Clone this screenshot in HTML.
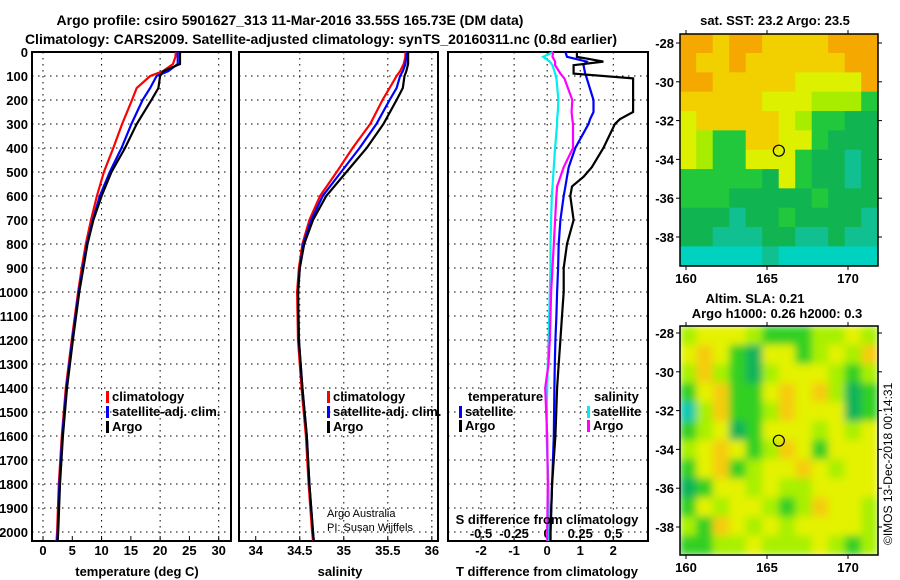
<!DOCTYPE html>
<html><head><meta charset="utf-8"><style>
body{margin:0;background:#fff}
svg{display:block;font-family:"Liberation Sans",Arial,sans-serif}
.t{font-weight:bold;font-size:13px}
.ti{font-weight:bold;font-size:14px}
</style></head><body>
<svg id="c" width="900" height="580" viewBox="0 0 900 580">
<text class="ti" x="290" y="25" text-anchor="middle">Argo profile: csiro 5901627_313 11-Mar-2016 33.55S 165.73E (DM data)</text>
<text class="ti" x="321" y="44" text-anchor="middle">Climatology: CARS2009. Satellite-adjusted climatology: synTS_20160311.nc (0.8d earlier)</text>
<g id="plots"></g>
<text x="327" y="517" font-size="11">Argo Australia</text>
<text x="327" y="531" font-size="11">PI: Susan Wijffels</text>
<text class="t" x="547" y="524" text-anchor="middle">S difference from climatology</text>
<text class="t" x="137" y="576" text-anchor="middle">temperature (deg C)</text>
<text class="t" x="340" y="576" text-anchor="middle">salinity</text>
<text class="t" x="547" y="576" text-anchor="middle">T difference from climatology</text>
<text class="t" x="775" y="25" text-anchor="middle">sat. SST: 23.2 Argo: 23.5</text>
<text class="t" x="755" y="303" text-anchor="middle">Altim. SLA: 0.21</text>
<text class="t" x="777" y="318" text-anchor="middle">Argo h1000: 0.26 h2000: 0.3</text>
<text x="892" y="545" font-size="12" transform="rotate(-90 892 545)">©IMOS 13-Dec-2018 00:14:31</text>
</svg>
<script>
const depths=[0,20,50,80,100,150,200,300,400,500,600,700,800,900,1000,1200,1400,1600,1800,2000,2050];
const tClim=[22.7,22.6,22.2,20.5,18.3,16,15.2,13.5,12,10.4,9.2,8.2,7.3,6.6,6,4.9,3.9,3.2,2.7,2.4,2.3];
const tSat=[23,23,23,21.4,19.4,18.3,17,15.1,13.4,11.4,9.7,8.5,7.5,6.8,6.1,5,4,3.3,2.8,2.5,2.4];
const tArgo=[23.4,23.4,23.4,20.5,20,19.7,18.5,16,14,11.7,10,8.6,7.6,6.9,6.2,5.1,4.1,3.4,2.9,2.6,2.5];
const sClim=[35.70,35.70,35.68,35.64,35.60,35.52,35.44,35.30,35.10,34.92,34.73,34.61,34.53,34.49,34.47,34.48,34.52,34.57,34.60,34.64,34.65];
const sSat=[35.72,35.71,35.70,35.67,35.64,35.60,35.52,35.37,35.18,34.97,34.76,34.63,34.54,34.50,34.48,34.49,34.53,34.58,34.61,34.65,34.66];
const sArgo=[35.73,35.73,35.73,35.71,35.69,35.67,35.60,35.45,35.26,35.03,34.80,34.65,34.55,34.50,34.48,34.49,34.53,34.58,34.61,34.65,34.66];
const dDepths=[0,20,40,55,90,110,200,250,280,300,400,480,520,560,600,700,800,900,1000,1100,1200,1300,1400,1600,1800,2000,2050];
const dtArgo=[0.9,0.9,1.7,0.8,0.8,2.6,2.6,2.6,2.2,2.05,1.7,1.35,1.1,0.75,0.7,0.8,0.6,0.5,0.5,0.45,0.4,0.35,0.3,0.25,0.15,0.1,0.1];
const dtSat=[0.55,0.6,1.2,1.1,1.15,1.2,1.4,1.4,1.3,1.25,0.85,0.65,0.6,0.55,0.5,0.4,0.35,0.33,0.3,0.28,0.25,0.23,0.22,0.2,0.15,0.1,0.1];
const dsArgo=[0.045,0.04,0.06,0.06,0.1,0.13,0.19,0.185,0.19,0.195,0.195,0.125,0.1,0.075,0.07,0.06,0.05,0.04,0.03,0.025,0.02,0.01,-0.015,0.0,0.005,0.0,0.0];
const dsSat=[0.045,-0.03,0.02,0.04,0.06,0.07,0.085,0.08,0.075,0.075,0.06,0.05,0.045,0.04,0.035,0.03,0.025,0.025,0.02,0.015,0.01,0.005,0.0,-0.005,0.01,0.015,0.015];
const depthTicks=[0,100,200,300,400,500,600,700,800,900,1000,1100,1200,1300,1400,1500,1600,1700,1800,1900,2000];
const tTicks=[0,5,10,15,20,25,30];
const sTicks=[34,34.5,35,35.5,36];
const dtTicks=[-2,-1,0,1,2];
const dsTicks=[-0.5,-0.25,0,0.25,0.5];
const dsTickLabels=["-0.5","-0.25","0","0.25","0.5"];
const mapSST=["OOYOOYYYYOOO","OYYOYYYYYYOO","OOYYYYYyyyyO","YYYYYyyyLLLG","yYYYYYyLGGgg","yLGGYYyyGggg","yLGGyyyGggTg","GGGGGgyGggTg","GGGgggggGggg","gggTggGggggT","ggTTTggTTgTT","CCCCCTCCCCCC"];
const mapSLA=["LyyyLGGGLLyL","yYyGgyyGLyLY","LYLGgLyyyLGL","GyYGGyYyYLgG","CLYGGLYyyygG","GLygGyyyLyLy","LyYyGLYyGyyy","GyYGLyyYyLyy","gGyyLyLLyyyy","GyLyyLGLYyyL","LGYyLyLyyyyL","GGLLyLLLyLGL"];
const mapLatTicks=[-28,-30,-32,-34,-36,-38];
const mapLonTicks=[160,165,170];
const NS='http://www.w3.org/2000/svg';
const root=document.getElementById('plots');
function el(tag,attrs,parent){const e=document.createElementNS(NS,tag);for(const k in attrs)e.setAttribute(k,attrs[k]);(parent||root).appendChild(e);return e;}
const Y0=52,Y1=541;
const yScale=d=>Y0+d*0.24;
function panel(name,x0,x1,lo,hi){
  const g=el('g',{});
  
  
  return {g,x:v=>x0+(v-lo)/(hi-lo)*(x1-x0),x0,x1};
}
function frame(p,gridVals,xf){
  depthTicks.forEach(d=>{const l=el('line',{x1:p.x0,x2:p.x1,y1:yScale(d),y2:yScale(d),stroke:'#000','stroke-dasharray':'1.5 4.5','stroke-width':1},p.g);
    
    });
  gridVals.forEach(v=>{const l=el('line',{x1:xf(v),x2:xf(v),y1:Y0,y2:Y1,stroke:'#000','stroke-dasharray':'1.5 4.5'},p.g);
    
    });
  const r=el('rect',{x:p.x0,y:Y0,width:p.x1-p.x0,height:Y1-Y0,fill:'none',stroke:'#000','stroke-width':2},p.g);
  
  
}
function line(p,xs,ds,xf,color,name){
  const pts=xs.map((v,i)=>xf(v).toFixed(1)+','+Math.min(yScale(ds[i]),Y1).toFixed(1)).join(' ');
  const l=el('polyline',{points:pts,fill:'none',stroke:color,'stroke-width':2.2},p.g);
  
  
}
function xticks(p,vals,labels,xf,y){
  vals.forEach((v,i)=>{el('line',{x1:xf(v),x2:xf(v),y1:Y1,y2:Y1-5,stroke:'#000'},p.g);
    const t=el('text',{x:xf(v),y:y,'text-anchor':'middle',class:'t'},p.g);t.textContent=labels?labels[i]:String(v);
    
    });
}
function legendItem(p,x,y,color,label){
  el('rect',{x:x,y:y-10,width:3,height:12,fill:color},p.g);
  const t=el('text',{x:x+6,y:y,class:'t'},p.g);t.textContent=label;
  
  
}
depthTicks.forEach(d=>{const t=el('text',{x:28,y:yScale(d)+5,'text-anchor':'end',class:'t'});t.textContent=String(d);
  
  });
// temperature
const pT=panel('temperature-panel',32,231,-1.88,32.1);
frame(pT,[0,10,20,30],pT.x);
xticks(pT,tTicks,null,pT.x,555);
line(pT,tClim,depths,pT.x,'#f00','temp-climatology-line');
line(pT,tSat,depths,pT.x,'#00f','temp-satellite-line');
line(pT,tArgo,depths,pT.x,'#000','temp-argo-line');
legendItem(pT,106,401,'#f00','climatology');
legendItem(pT,106,416,'#00f','satellite-adj. clim.');
legendItem(pT,106,431,'#000','Argo');
// salinity
const pS=panel('salinity-panel',239,438,33.81,36.07);
frame(pS,[34.5,35,35.5,36],pS.x);
xticks(pS,sTicks,null,pS.x,555);
line(pS,sClim,depths,pS.x,'#f00','sal-climatology-line');
line(pS,sSat,depths,pS.x,'#00f','sal-satellite-line');
line(pS,sArgo,depths,pS.x,'#000','sal-argo-line');
legendItem(pS,327,401,'#f00','climatology');
legendItem(pS,327,416,'#00f','satellite-adj. clim.');
legendItem(pS,327,431,'#000','Argo');
// diff
const pD=panel('difference-panel',448,648,-3,3.05);
const dsx=v=>pD.x(v*4);
frame(pD,dtTicks,pD.x);
xticks(pD,dtTicks,null,pD.x,555);
dsTicks.forEach((v,i)=>{const t=el('text',{x:dsx(v),y:538,'text-anchor':'middle',class:'t'},pD.g);t.textContent=dsTickLabels[i];
  
  });
line(pD,dsSat,dDepths,dsx,'#0ee','sdiff-satellite-line');
line(pD,dsArgo,dDepths,dsx,'#f0f','sdiff-argo-line');
line(pD,dtSat,dDepths,pD.x,'#00f','tdiff-satellite-line');
line(pD,dtArgo,dDepths,pD.x,'#000','tdiff-argo-line');
{const t=el('text',{x:468,y:401,class:'t'},pD.g);t.textContent='temperature';
 
 }
{const t=el('text',{x:594,y:401,class:'t'},pD.g);t.textContent='salinity';
 
 }
legendItem(pD,459,416,'#00f','satellite');
legendItem(pD,459,430,'#000','Argo');
legendItem(pD,587,416,'#0ee','satellite');
legendItem(pD,587,430,'#f0f','Argo');
// maps
const colSST={O:'#f5a800',Y:'#f2d000',y:'#dcf000',L:'#a8ec00',G:'#22c83c',g:'#10b450',T:'#10c090',C:'#00d2c0'};
const colSLA={Y:'#f5cc10',y:'#e4f200',L:'#a8f000',G:'#30d020',g:'#10b45a',C:'#10c8b0'};
const defs=el('defs',{},document.getElementById('c'));
const f=el('filter',{id:'blur',x:'-10%',y:'-10%',width:'120%',height:'120%'},defs);el('feGaussianBlur',{stdDeviation:4},f);
const cp=el('clipPath',{id:'slaclip'},defs);el('rect',{x:680,y:326,width:198,height:229},cp);
function map(name,top,rows,cols,latTop){
  const x0=680,x1=878,bottom=top+(name==='sst-map'?232:229);
  const g=el('g',{});
  
  
  const cw=(x1-x0)/12,ch=(bottom-top)/12;
  const outer=el('g',name==='sla-map'?{'clip-path':'url(#slaclip)'}:{},g);
  const cells=el('g',name==='sla-map'?{filter:'url(#blur)'}:{},outer);
  rows.forEach((r,i)=>{for(let j=0;j<12;j++){el('rect',{x:x0+j*cw-0.3,y:top+i*ch-0.3,width:cw+0.6,height:ch+0.6,fill:cols[r[j]]},cells);}});
  const lon=v=>686+(v-160)*16.2, lat=v=>latTop+(-28-v)*19.4;
  const c=el('circle',{cx:lon(165.73),cy:lat(-33.55),r:5.5,fill:'none',stroke:'#000','stroke-width':1.2},g);
  
  
  el('rect',{x:x0,y:top,width:x1-x0,height:bottom-top,fill:'none',stroke:'#000','stroke-width':1.5},g);
  mapLatTicks.forEach(v=>{el('line',{x1:x0-4,x2:x0,y1:lat(v),y2:lat(v),stroke:'#000'},g);el('line',{x1:x1,x2:x1+4,y1:lat(v),y2:lat(v),stroke:'#000'},g);
    const t=el('text',{x:x0-6,y:lat(v)+5,'text-anchor':'end',class:'t'},g);t.textContent=String(v);
    
    });
  mapLonTicks.forEach(v=>{el('line',{x1:lon(v),x2:lon(v),y1:bottom,y2:bottom+4,stroke:'#000'},g);el('line',{x1:lon(v),x2:lon(v),y1:top-4,y2:top,stroke:'#000'},g);
    const t=el('text',{x:lon(v),y:bottom+17,'text-anchor':'middle',class:'t'},g);t.textContent=String(v);
    
    });
}
map('sst-map',34,mapSST,colSST,43);
map('sla-map',326,mapSLA,colSLA,333);
</script>
</body></html>
